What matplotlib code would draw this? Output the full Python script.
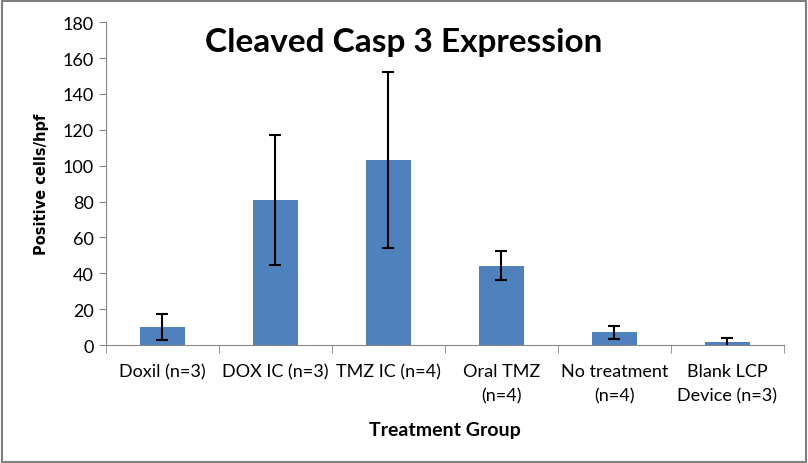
import matplotlib.pyplot as plt
import numpy as np
from matplotlib import font_manager

groups = ["Doxil (n=3)", "DOX IC (n=3)", "TMZ IC (n=4)", "Oral TMZ\n(n=4)",
          "No treatment\n(n=4)", "Blank LCP\nDevice (n=3)"]
means = [10.2, 81.0, 103.3, 44.3, 7.1, 1.6]
errors = [7.3, 36.2, 49.0, 8.0, 3.4, 2.6]

names = {f.name for f in font_manager.fontManager.ttflist}
font = "Liberation Sans Narrow" if "Liberation Sans Narrow" in names else "Lato"
plt.rcParams['font.family'] = [font, 'DejaVu Sans']

fig = plt.figure(figsize=(8.08, 4.64), dpi=100)
ax = fig.add_axes([0.131, 0.254, 0.839, 0.696])

x = np.arange(len(groups))
ax.bar(x, means, width=0.4, color="#4f81bd", zorder=2)
ax.errorbar(x, means, yerr=errors, fmt="none", ecolor="black",
            elinewidth=1.5, capsize=4, capthick=1.5, zorder=3)

ax.set_xlim(-0.5, len(groups) - 0.5)
ax.set_ylim(0, 180)
ax.set_yticks(np.arange(0, 181, 20))
ax.set_xticks(x)
ax.set_xticklabels(groups, fontsize=13, linespacing=1.65)
ax.set_xticks(np.arange(-0.5, len(groups), 1), minor=True)
ax.tick_params(axis="x", which="major", length=0, pad=13)
ax.tick_params(axis="x", which="minor", length=6, color="#868686")
ax.tick_params(axis="y", length=5, color="#868686", labelsize=13)

for s in ["top", "right"]:
    ax.spines[s].set_visible(False)
for s in ["left", "bottom"]:
    ax.spines[s].set_color("#868686")

ax.set_ylabel("Positive cells/hpf", fontsize=10.5, fontweight="bold",
              family=["DejaVu Sans"], labelpad=10)
ax.set_xlabel("Treatment Group", fontsize=14, fontweight="bold", labelpad=12)
fig.text(0.499, 0.908, "Cleaved Casp 3 Expression", ha="center", va="center",
         fontsize=24, fontweight="bold")

fig.patches.append(plt.Rectangle((0.002, 0.003), 0.995, 0.993, transform=fig.transFigure,
                                 fill=False, edgecolor="#808080", linewidth=1.5))

fig.savefig("out.png", dpi=100)
